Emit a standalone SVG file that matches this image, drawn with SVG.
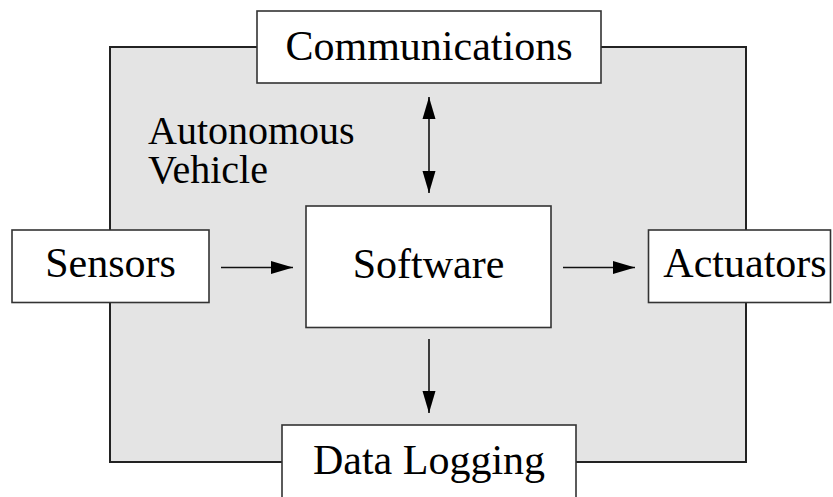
<svg xmlns="http://www.w3.org/2000/svg" width="833" height="497" viewBox="0 0 833 497">
<defs>
<marker id="ah" markerUnits="userSpaceOnUse" markerWidth="24" markerHeight="14" refX="22" refY="7" orient="auto-start-reverse" viewBox="0 0 24 14">
<path d="M0,0.5 L22,7 L0,13.5 z" fill="#000"/>
</marker>
<style>
.box{fill:#fff;stroke:#333;stroke-width:1.6}
.bg{fill:#e4e4e4;stroke:#222;stroke-width:2}
.t{font-family:"Liberation Serif","Times New Roman",serif;font-size:42px;fill:#000}
.lbl{font-size:40px}
.c{text-anchor:middle}
.ln{stroke:#111;stroke-width:1.6;fill:none}
</style>
</defs>
<rect width="833" height="497" fill="#fff"/>
<g id="vehicle">
<rect class="bg" x="110" y="47" width="636" height="415"/>
<text class="t lbl" x="148" y="144">Autonomous</text>
<text class="t lbl" x="148" y="183">Vehicle</text>
</g>
<g id="connectors">
<line class="ln" x1="221" y1="267.5" x2="293" y2="267.5" marker-end="url(#ah)"/>
<line class="ln" x1="563" y1="267.5" x2="635" y2="267.5" marker-end="url(#ah)"/>
<line class="ln" x1="429" y1="97" x2="429" y2="193" marker-start="url(#ah)" marker-end="url(#ah)"/>
<line class="ln" x1="429" y1="339" x2="429" y2="413" marker-end="url(#ah)"/>
</g>
<g id="communications">
<rect class="box" x="257" y="11" width="344" height="72"/>
<text class="t c" x="429" y="60">Communications</text>
</g>
<g id="sensors">
<rect class="box" x="12" y="230" width="197" height="72.5"/>
<text class="t c" x="110.5" y="277">Sensors</text>
</g>
<g id="software">
<rect class="box" x="306" y="206" width="245" height="121.5"/>
<text class="t c" x="428.5" y="278">Software</text>
</g>
<g id="actuators">
<rect class="box" x="648.5" y="230" width="182" height="72.5"/>
<text class="t c" x="745" y="277">Actuators</text>
</g>
<g id="datalogging">
<rect class="box" x="282" y="425" width="294" height="80"/>
<text class="t c" x="429" y="474">Data Logging</text>
</g>
</svg>
